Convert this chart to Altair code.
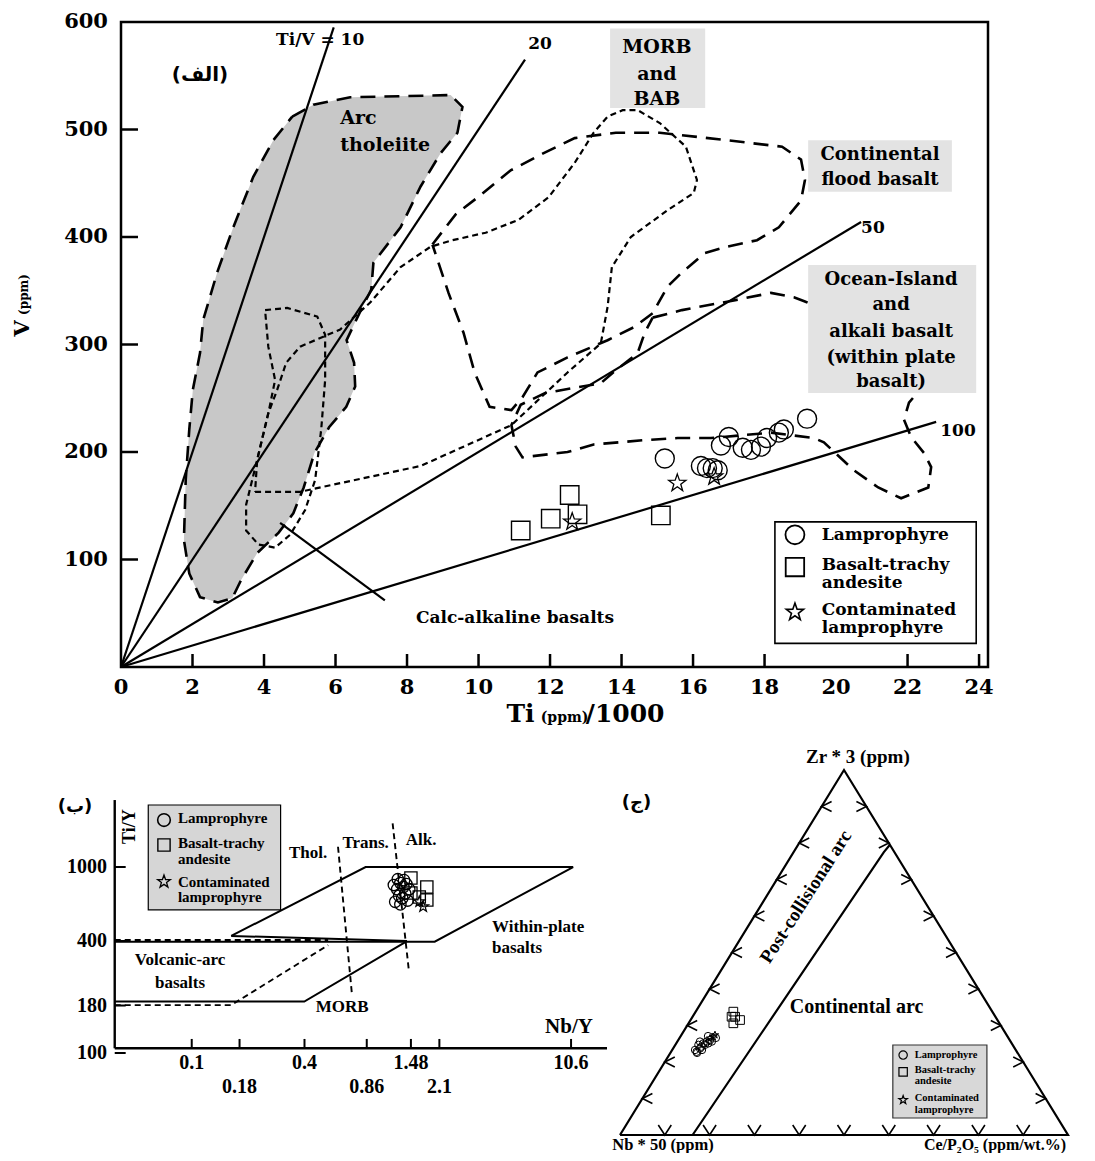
import altair as alt
import pandas as pd

SERIF = "Liberation Serif"
WIDE = "DejaVu Serif"
AR_FONT = "DejaVu Sans"
STAR = ("M0,-1L0.235,-0.324L0.951,-0.309L0.38,0.124L0.588,0.809L0,0.4"
        "L-0.588,0.809L-0.38,0.124L-0.951,-0.309L-0.235,-0.324Z")

CANVAS_W, CANVAS_H = 1075, 1145

# ======================= (a) Ti - V diagram =======================
TI_DOMAIN = [0, 24.25]
V_DOMAIN = [0, 600]
TI_RANGE = [113, 980]
V_RANGE = [659, 14]
ti_ticks = [0, 2, 4, 6, 8, 10, 12, 14, 16, 18, 20, 22, 24]
ti_tick_marks = [2, 4, 6, 8, 10, 12, 14, 16, 18, 22, 24]
v_ticks = [100, 200, 300, 400, 500, 600]
v_tick_marks = [100, 200, 300, 400, 500]

ratio_values = [10, 20, 50, 100]
ratio_ti_end = [5.95, 11.3, 20.7, 22.8]
ratio_labels = ["Ti/V = 10", "20", "50", "100"]
ratio_label_ti = [5.57, 11.72, 21.03, 23.41]
ratio_label_v = [583, 580, 408, 220]

lamp_ti = [15.21, 16.22, 16.39, 16.55, 16.69, 16.78, 17.00, 17.39, 17.62, 17.90, 18.07, 18.40, 18.54, 19.19]
lamp_v = [194, 187, 185, 185, 183, 206, 214, 204, 202, 205, 213, 218, 221, 231]
bta_ti = [11.18, 12.02, 12.55, 12.77, 15.10]
bta_v = [127, 138, 160, 142, 141]
clamp_ti = [12.62, 15.56, 16.59]
clamp_v = [135, 171, 177]

arc_tho_ti = [4.79, 5.38, 6.41, 9.22, 9.55, 9.41, 8.94, 8.38, 7.82, 7.06, 7.00, 6.71, 6.31,
              6.52, 6.55, 6.30, 5.82, 5.41, 5.11, 4.82, 4.41, 3.81, 3.36, 3.11, 2.71, 2.21,
              1.91, 1.76, 1.81, 1.91, 2.01, 2.21, 2.30, 2.69, 3.14, 3.70, 4.26]
arc_tho_v = [512, 523, 530, 532, 521, 497, 478, 447, 409, 376, 351, 332, 304,
             283, 261, 242, 223, 199, 167, 143, 125, 106, 81, 64, 60, 65,
             87, 118, 174, 221, 258, 292, 323, 367, 409, 456, 490]

calc_ti = [4.03, 4.65, 5.49, 5.71, 5.71, 5.60, 5.43, 5.15, 4.73, 4.31, 3.84, 3.50, 3.50, 3.81, 4.12, 4.31, 4.12]
calc_v = [332, 334, 326, 309, 267, 221, 174, 146, 123, 111, 114, 127, 151, 193, 236, 267, 298]

morb_ti = [3.75, 5.01, 6.41, 8.38, 10.92, 12.49, 13.42, 13.61, 13.73, 14.26, 15.29, 16.02, 16.11,
           15.80, 15.07, 14.45, 14.03, 13.61, 13.22, 12.69, 11.96, 11.12, 10.20, 9.27, 8.66,
           7.82, 6.97, 6.13, 5.01, 4.62, 4.37, 4.12, 3.81]
morb_v = [163, 163, 173, 187, 225, 274, 301, 335, 372, 400, 425, 441, 453,
          484, 506, 518, 518, 512, 497, 469, 437, 416, 404, 397, 391,
          372, 339, 314, 298, 283, 258, 236, 193]

cfb_ti = [8.71, 9.36, 10.06, 10.90, 11.88, 12.69, 13.84, 15.07, 16.95, 18.49, 19.02, 19.13, 19.02,
          18.40, 17.79, 16.95, 16.33, 15.69, 15.29, 14.87, 14.34, 13.61, 12.49, 11.65, 11.23,
          10.92, 10.31, 9.89, 9.58, 9.16]
cfb_v = [393, 421, 439, 462, 479, 492, 497, 497, 490, 484, 472, 453, 434,
         409, 397, 391, 385, 367, 354, 329, 316, 304, 288, 274, 251,
         239, 242, 274, 311, 348]

oib_ti = [14.87, 15.69, 17.14, 18.18, 18.82, 19.13, 20.50, 22.30, 22.04, 21.90, 22.10, 22.46, 22.66,
          22.58, 21.82, 21.18, 20.50, 19.66, 19.38, 18.18, 16.50, 15.57, 14.62, 13.22, 12.49,
          11.23, 11.04, 10.92, 11.18, 11.88, 13.42, 13.84, 14.45, 14.65]
oib_v = [325, 332, 341, 348, 344, 340, 320, 256, 246, 230, 214, 199, 186,
         167, 157, 167, 183, 209, 213, 218, 213, 213, 211, 207, 200,
         195, 205, 225, 244, 255, 264, 276, 292, 311]

calc_leader_ti = [4.45, 7.38]
calc_leader_v = [134, 62]

box_ti1 = [13.68, 19.22, 19.22]
box_ti2 = [16.34, 23.24, 23.92]
box_v1 = [520, 442, 255]
box_v2 = [594, 490, 374]

top_texts = ["Arc", "tholeiite", "MORB", "and", "BAB", "Continental", "flood basalt",
             "Ocean-Island", "and", "alkali basalt", "(within plate", "basalt)",
             "Calc-alkaline basalts"]
top_text_ti = [6.13, 6.13, 14.99, 14.99, 14.99, 21.23, 21.23,
               21.54, 21.54, 21.54, 21.54, 21.54, 11.02]
top_text_v = [511, 486, 577, 552, 528, 476, 453, 360, 337, 312, 287, 265, 46]
top_text_align = ["left", "left", "center", "center", "center", "center", "center",
                  "center", "center", "center", "center", "center", "center"]
top_text_size = [19, 19, 19, 19, 19, 18, 18, 18, 18, 18, 18, 18, 17]

leg_top_box = [18.29, 23.92, 22, 135]
leg_top_sym_ti = 18.85
leg_top_sym_v = [123, 93, 51]
leg_txt = ["Lamprophyre", "Basalt-trachy", "andesite", "Contaminated", "lamprophyre"]
leg_top_txt_ti = 19.6
leg_top_txt_v = [123, 95, 78, 53, 36]

top_xlab_v = -19.5
top_ylab_ti = -0.364
top_xtitle = ["Ti", "(ppm)", "/1000"]
top_xtitle_ti = [10.78, 11.74, 13.0]
top_xtitle_v = -51.2
top_xtitle_size = [25, 14, 25]
top_ytitle = ["V", "(ppm)"]
top_ytitle_ti = [-2.74, -2.70]
top_ytitle_v = [315.0, 346.5]
top_ytitle_size = [21, 12]

# ======================= (b) Ti/Y - Nb/Y diagram =======================
NBY_DOMAIN = [0.03, 20]
NBY_RANGE = [85.8, 614.7]
TIY_DOMAIN = [50, 5000]
TIY_RANGE = [1101, 729]
NBY_MIN = 0.0388
TIY_AXIS = 106
nby_ticks_row1 = [0.1, 0.4, 1.48, 10.6]
nby_ticks_row2 = [0.18, 0.86, 2.1]
nby_tick_lab1 = ["0.1", "0.4", "1.48", "10.6"]
nby_tick_lab2 = ["0.18", "0.86", "2.1"]
tiy_ticks = [100, 180, 400, 1000]

bl_solid = [
    ("wpb", [0.1625, 0.848, 10.87, 1.983, NBY_MIN], [426, 1000, 1000, 397, 397]),
    ("wpb2", [0.1625, 1.411], [426, 400]),
    ("morb", [NBY_MIN, 0.399, 1.411], [189, 189, 400]),
]
bl_dashed = [
    ("vab1", [NBY_MIN, 0.535], [405, 405]),
    ("vab2", [NBY_MIN, 0.1625, 0.535], [181, 181, 380]),
    ("thol", [0.604, 0.716], [1285, 209]),
    ("alk", [1.182, 1.445], [1718, 274]),
]

bl_lamp_x = [1.20, 1.25, 1.30, 1.35, 1.40, 1.28, 1.33, 1.38, 1.45, 1.22, 1.30, 1.42, 1.36, 1.26]
bl_lamp_y = [800, 760, 820, 780, 810, 700, 680, 720, 760, 650, 630, 660, 850, 860]
bl_bta_x = [1.48, 1.80, 1.80, 1.64, 1.48]
bl_bta_y = [873, 780, 665, 690, 724]
bl_clamp_x = [1.72, 1.64]
bl_clamp_y = [612, 651]

bl_texts = ["Thol.", "Trans.", "Alk.", "Within-plate", "basalts", "Volcanic-arc", "basalts", "MORB"]
bl_text_x = [0.418, 0.848, 1.676, 4.01, 4.01, 0.0866, 0.0866, 0.635]
bl_text_y = [1189, 1341, 1397, 475.5, 366.9, 316.2, 237.8, 176.7]
bl_text_align = ["center", "center", "center", "left", "left", "center", "center", "center"]

leg_bl_box = [0.0586, 0.2982, 587.5, 2154]
leg_bl_sym_x = 0.0711
leg_bl_sym_y = [1789, 1313, 834]
leg_bl_txt_x = 0.0844
leg_bl_txt_y = [1827, 1341, 1100, 834, 687]

# ======================= (c) ternary diagram =======================
TX_DOMAIN = [0, 100]
TX_RANGE = [612, 1060]
TY_DOMAIN = [0, 100]
TY_RANGE = [1127, 762]

t_lamp_nb = [71.6, 70.3, 70.15, 68.85, 67.85, 66.9, 71.5, 69.7, 68.7, 67.75, 69.35, 66.7,
             71.55, 66.8, 65.3, 70.05]
t_lamp_ce = [5.1, 6.0, 5.15, 6.05, 6.55, 7.1, 5.7, 6.1, 6.6, 7.15, 5.05, 7.7,
             5.95, 6.1, 8.1, 6.65]
t_lamp_zr = [23.3, 23.7, 24.7, 25.1, 25.6, 26.0, 22.8, 24.2, 24.7, 25.1, 25.6, 25.6,
             22.5, 27.1, 26.6, 23.3]
t_clamp_nb = [65.75, 65.1, 66.65]
t_clamp_ce = [7.35, 7.5, 6.85]
t_clamp_zr = [26.9, 27.4, 26.5]
t_bta_nb = [57.8, 58.1, 57.45, 59.4, 58.9]
t_bta_ce = [8.4, 9.5, 11.05, 10.0, 8.7]
t_bta_zr = [33.8, 32.4, 31.5, 30.6, 32.4]

t_bound_nb = [0, 2.35, 83.8]
t_bound_ce = [20.5, 20.15, 16.2]
t_bound_zr = [79.5, 77.5, 0]

t_grid_steps = [10, 20, 30, 40, 50, 60, 70, 80, 90]

leg_br_box = [60.9, 81.9, 4.66, 24.66]
leg_br_sym_x = 63.2
leg_br_sym_y = [21.9, 17.3, 9.6]
leg_br_txt_x = 65.8
leg_br_txt_y = [21.9, 17.8, 14.8, 10.1, 6.8]
t_corner_label_y = -2.74


# ---------------------------------------------------------------- helpers
def pts(xv, yv):
    return pd.DataFrame({"x": list(xv), "y": list(yv)})


def path_df(groups, close=False):
    rows = []
    for name, xv, yv in groups:
        xx = list(xv) + ([xv[0]] if close else [])
        yy = list(yv) + ([yv[0]] if close else [])
        for i, (a, b) in enumerate(zip(xx, yy)):
            rows.append({"g": name, "o": i, "x": a, "y": b})
    return pd.DataFrame(rows)


def lines(groups, ex, ey, width=2.2, dash=None, close=False, **kw):
    mk = dict(color="black", strokeWidth=width)
    if dash:
        mk["strokeDash"] = dash
    mk.update(kw)
    return alt.Chart(path_df(groups, close)).mark_line(**mk).encode(
        x=ex, y=ey, detail="g:N", order=alt.Order("o:Q"))


def points(xv, yv, shape, size, ex, ey, sw=1.4):
    return alt.Chart(pts(xv, yv)).mark_point(
        shape=shape, size=size, filled=False, color="black", strokeWidth=sw, opacity=1
    ).encode(x=ex, y=ey)


def rects(x1, x2, y1, y2, ex, ey, **mk):
    df = pd.DataFrame({"x": x1, "x2": x2, "y": y1, "y2": y2})
    return alt.Chart(df).mark_rect(**mk).encode(x=ex, x2="x2:Q", y=ey, y2="y2:Q")


def segs(x1, x2, y1, y2, ex, ey, width=2.0):
    df = pd.DataFrame({"x": x1, "x2": x2, "y": y1, "y2": y2})
    return alt.Chart(df).mark_rule(color="black", strokeWidth=width).encode(
        x=ex, x2="x2:Q", y=ey, y2="y2:Q")


def texts(tv, xv, yv, size, ex, ey, align="center", font=SERIF, angle=0, baseline="middle"):
    df = pd.DataFrame({"x": list(xv), "y": list(yv), "t": list(tv)})
    mk = dict(align=align, baseline=baseline, font=font, fontWeight="bold",
              fontSize=size, color="black")
    if angle:
        mk["angle"] = angle
    return alt.Chart(df).mark_text(**mk).encode(x=ex, y=ey, text="t:N")


# ---------------------------------------------------------------- panel (a)
XT = alt.X("x:Q", scale=alt.Scale(domain=TI_DOMAIN, range=TI_RANGE, nice=False, zero=False), axis=None)
YT = alt.Y("y:Q", scale=alt.Scale(domain=V_DOMAIN, range=V_RANGE, nice=False, zero=False), axis=None)

ratio_groups = [(str(r), [0, e], [0, e * 1000.0 / r]) for r, e in zip(ratio_values, ratio_ti_end)]

top_layers = [
    lines([("arc", arc_tho_ti, arc_tho_v)], XT, YT, close=True, fill="#c8c8c8", strokeOpacity=0),
    lines(ratio_groups, XT, YT, width=2.2),
    lines([("arc", arc_tho_ti, arc_tho_v), ("cfb", cfb_ti, cfb_v), ("oib", oib_ti, oib_v)],
          XT, YT, width=2.6, dash=[15, 9], close=True),
    lines([("calc", calc_ti, calc_v), ("morb", morb_ti, morb_v)],
          XT, YT, width=2.2, dash=[6, 4], close=True),
    rects(box_ti1, box_ti2, box_v1, box_v2, XT, YT, color="#e3e3e3"),
    lines([("lead", calc_leader_ti, calc_leader_v)], XT, YT, width=2.2),
]
for al in ["left", "center"]:
    idx = [i for i, a in enumerate(top_text_align) if a == al]
    for sz in sorted(set(top_text_size[i] for i in idx)):
        sel = [i for i in idx if top_text_size[i] == sz]
        top_layers.append(texts([top_texts[i] for i in sel], [top_text_ti[i] for i in sel],
                                [top_text_v[i] for i in sel], sz, XT, YT, align=al, font=WIDE))
top_layers += [
    texts(ratio_labels, ratio_label_ti, ratio_label_v, 17, XT, YT, font=WIDE),
    texts(["(الف)"], [2.21], [551], 20, XT, YT, font=AR_FONT),
    points(lamp_ti, lamp_v, "circle", 360, XT, YT),
    points(bta_ti, bta_v, "square", 340, XT, YT),
    points(clamp_ti, clamp_v, STAR, 330, XT, YT, sw=1.3),
    rects([leg_top_box[0]], [leg_top_box[1]], [leg_top_box[2]], [leg_top_box[3]], XT, YT,
          fill="white", stroke="black", strokeWidth=1.6),
    points([leg_top_sym_ti], [leg_top_sym_v[0]], "circle", 360, XT, YT, sw=1.8),
    points([leg_top_sym_ti], [leg_top_sym_v[1]], "square", 340, XT, YT, sw=1.8),
    points([leg_top_sym_ti], [leg_top_sym_v[2]], STAR, 330, XT, YT, sw=1.6),
    texts(leg_txt, [leg_top_txt_ti] * 5, leg_top_txt_v, 17, XT, YT, align="left", font=WIDE),
    rects([TI_DOMAIN[0]], [TI_DOMAIN[1]], [V_DOMAIN[0]], [V_DOMAIN[1]], XT, YT,
          fillOpacity=0, stroke="black", strokeWidth=2.5),
    segs(ti_tick_marks, ti_tick_marks, [0] * len(ti_tick_marks), [12.1] * len(ti_tick_marks), XT, YT, 2.5),
    segs([0] * len(v_tick_marks), [0.475] * len(v_tick_marks), v_tick_marks, v_tick_marks, XT, YT, 2.5),
    texts([str(t) for t in ti_ticks], ti_ticks, [top_xlab_v] * len(ti_ticks), 21, XT, YT, font=WIDE),
    texts([str(t) for t in v_ticks], [top_ylab_ti] * len(v_ticks), v_ticks, 21, XT, YT,
          align="right", font=WIDE),
]
for t, x, s in zip(top_xtitle, top_xtitle_ti, top_xtitle_size):
    top_layers.append(texts([t], [x], [top_xtitle_v], s, XT, YT, align="left",
                            baseline="alphabetic", font=WIDE))
for t, x, y, s in zip(top_ytitle, top_ytitle_ti, top_ytitle_v, top_ytitle_size):
    top_layers.append(texts([t], [x], [y], s, XT, YT, angle=270, font=WIDE))
top = alt.layer(*top_layers)

# ---------------------------------------------------------------- panel (b)
XB = alt.X("x:Q", scale=alt.Scale(type="log", domain=NBY_DOMAIN, range=NBY_RANGE, nice=False), axis=None)
YB = alt.Y("y:Q", scale=alt.Scale(type="log", domain=TIY_DOMAIN, range=TIY_RANGE, nice=False), axis=None)

bl_layers = [
    lines(bl_solid, XB, YB, width=2.0),
    lines(bl_dashed, XB, YB, width=1.9, dash=[6, 4]),
    segs([NBY_MIN, NBY_MIN], [NBY_MIN, 16.49], [TIY_AXIS, TIY_AXIS], [2291, TIY_AXIS], XB, YB, 2.4),
    segs(nby_ticks_row1 + nby_ticks_row2, nby_ticks_row1 + nby_ticks_row2,
         [TIY_AXIS] * 7, [119] * 7, XB, YB, 2.0),
    segs([NBY_MIN] * 4, [0.0444] * 4, tiy_ticks, tiy_ticks, XB, YB, 2.0),
    texts(nby_tick_lab1, nby_ticks_row1, [88.0] * 4, 20, XB, YB),
    texts(nby_tick_lab2, nby_ticks_row2, [65.9] * 3, 20, XB, YB),
    texts([str(v) for v in tiy_ticks], [0.0353] * 4, tiy_ticks, 20, XB, YB, align="right"),
    rects([leg_bl_box[0]], [leg_bl_box[1]], [leg_bl_box[2]], [leg_bl_box[3]], XB, YB,
          fill="#d6d6d6", stroke="black", strokeWidth=1.2),
    points([leg_bl_sym_x], [leg_bl_sym_y[0]], "circle", 160, XB, YB, sw=1.6),
    points([leg_bl_sym_x], [leg_bl_sym_y[1]], "square", 150, XB, YB, sw=1.4),
    points([leg_bl_sym_x], [leg_bl_sym_y[2]], STAR, 180, XB, YB, sw=1.3),
    texts(leg_txt, [leg_bl_txt_x] * 5, leg_bl_txt_y, 15, XB, YB, align="left"),
]
for al in ["left", "center"]:
    sel = [i for i, a in enumerate(bl_text_align) if a == al]
    bl_layers.append(texts([bl_texts[i] for i in sel], [bl_text_x[i] for i in sel],
                           [bl_text_y[i] for i in sel], 17, XB, YB, align=al))
bl_layers += [
    texts(["Nb/Y"], [10.34], [138], 21, XB, YB),
    texts(["Ti/Y"], [0.0471], [1647], 18, XB, YB, angle=270),
    texts(["(ب)"], [0.0238], [2110], 18, XB, YB, font=AR_FONT),
    points(bl_lamp_x, bl_lamp_y, "circle", 130, XB, YB, sw=1.3),
    points(bl_bta_x, bl_bta_y, "square", 150, XB, YB, sw=1.3),
    points(bl_clamp_x, bl_clamp_y, STAR, 130, XB, YB, sw=1.2),
]
bl = alt.layer(*bl_layers)

# ---------------------------------------------------------------- panel (c)
XR = alt.X("x:Q", scale=alt.Scale(domain=TX_DOMAIN, range=TX_RANGE, nice=False, zero=False), axis=None)
YR = alt.Y("y:Q", scale=alt.Scale(domain=TY_DOMAIN, range=TY_RANGE, nice=False, zero=False), axis=None)


def tern(nb, ce, zr):
    xs_, ys_ = [], []
    for a, b, c in zip(nb, ce, zr):
        s = a + b + c
        xs_.append((b + c / 2.0) * 100.0 / s)
        ys_.append(c * 100.0 / s)
    return xs_, ys_


tri_x, tri_y = tern([100, 0, 0], [0, 100, 0], [0, 0, 100])
bnd_x, bnd_y = tern(t_bound_nb, t_bound_ce, t_bound_zr)
lt_x, lt_y = tern([100 - c for c in t_grid_steps], [0] * 9, t_grid_steps)
bt_x, bt_y = tern([100 - b for b in t_grid_steps], t_grid_steps, [0] * 9)
rt_x, rt_y = tern([0] * 9, [100 - c for c in t_grid_steps], t_grid_steps)
lp_x, lp_y = tern(t_lamp_nb, t_lamp_ce, t_lamp_zr)
cp_x, cp_y = tern(t_clamp_nb, t_clamp_ce, t_clamp_zr)
bp_x, bp_y = tern(t_bta_nb, t_bta_ce, t_bta_zr)

br_layers = [
    lines([("tri", tri_x, tri_y)], XR, YR, width=2.2, close=True),
    lines([("bnd", bnd_x, bnd_y)], XR, YR, width=2.2),
    points(lt_x, lt_y, "M1,-0.5L0,0L1,0.5", 400, XR, YR, sw=1.6),
    points(bt_x, bt_y, "M-0.65,-1L0,0L0.65,-1", 400, XR, YR, sw=1.6),
    points(rt_x, rt_y, "M-1,-0.5L0,0L-1,0.5", 400, XR, YR, sw=1.6),
    points(lp_x, lp_y, "circle", 55, XR, YR, sw=1.0),
    points(bp_x, bp_y, "square", 75, XR, YR, sw=1.0),
    points(cp_x, cp_y, STAR, 60, XR, YR, sw=1.0),
    rects([leg_br_box[0]], [leg_br_box[1]], [leg_br_box[2]], [leg_br_box[3]], XR, YR,
          fill="#d8d8d8", stroke="#333333", strokeWidth=1.2),
    points([leg_br_sym_x], [leg_br_sym_y[0]], "circle", 70, XR, YR, sw=1.2),
    points([leg_br_sym_x], [leg_br_sym_y[1]], "square", 70, XR, YR, sw=1.2),
    points([leg_br_sym_x], [leg_br_sym_y[2]], STAR, 80, XR, YR, sw=1.2),
    texts(leg_txt, [leg_br_txt_x] * 5, leg_br_txt_y, 10.5, XR, YR, align="left"),
    texts(["Zr * 3 (ppm)"], [53.1], [103.6], 19, XR, YR),
    texts(["Nb * 50 (ppm)"], [9.6], [t_corner_label_y], 16.5, XR, YR),
    texts(["Ce/P₂O₅ (ppm/wt.%)"], [83.7], [t_corner_label_y], 16, XR, YR),
    texts(["Continental arc"], [52.8], [35.15], 20, XR, YR),
    texts(["Post-collisional arc"], [41.45], [65.3], 19, XR, YR, angle=302.5),
    texts(["(ج)"], [3.7], [90.9], 18, XR, YR, font=AR_FONT),
]
br = alt.layer(*br_layers)

chart = alt.layer(top, bl, br).resolve_scale(x="independent", y="independent").properties(
    width=CANVAS_W, height=CANVAS_H,
    autosize=alt.AutoSizeParams(type="none"), padding=0,
).configure_view(stroke=None)

chart.save("out.html", embed_options={"renderer": "svg", "actions": False})
